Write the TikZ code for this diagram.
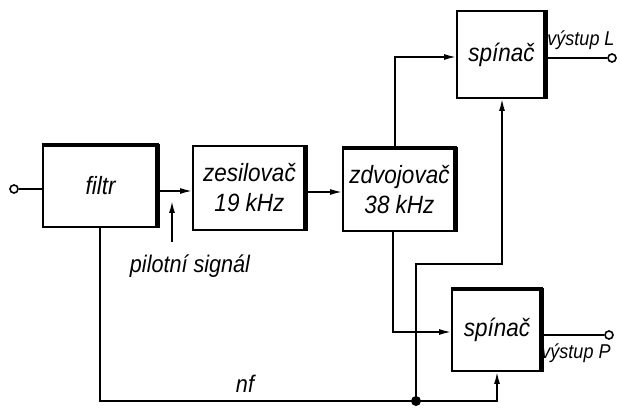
\documentclass[tikz,border=0pt]{standalone}
\usepackage{fontspec}
\setmainfont{Liberation Sans}
\newfontfamily\letfont[FakeStretch=0.9]{Liberation Sans}
\usetikzlibrary{arrows.meta,calc}
\begin{document}
\begin{tikzpicture}[x=0.5pt,y=-0.5pt,
  blk/.style={draw, line width=0.9pt, inner sep=0pt, align=center, font=\letfont\fontsize{12.5}{15}\selectfont\itshape},
  wire/.style={line width=0.8pt},
  arr/.style={wire, -{Latex[length=6pt,width=3pt]}},
  term/.style={circle, draw, line width=0.8pt, inner sep=0pt, minimum size=4pt, fill=white},
  dot/.style={circle, fill, inner sep=0pt, minimum size=5pt},
  lbl/.style={font=\letfont\fontsize{12}{14}\selectfont\itshape, inner sep=0pt},
  outlbl/.style={font=\letfont\fontsize{10}{12}\selectfont\itshape, inner sep=0pt},
  heavy/.style={line width=2.2pt}]
\useasboundingbox (0,0) rectangle (620,410);

% blocks
\node[blk, minimum width=57.5pt, minimum height=41pt] (filtr) at (100.5,186) {filtr};
\node[blk, minimum width=56.5pt, minimum height=42pt] (zesil) at (249.5,188) {zesilovač\\19 kHz};
\node[blk, minimum width=56.5pt, minimum height=41.5pt] (zdvoj) at (399.5,189.5) {zdvojovač\\38 kHz};
\node[blk, minimum width=44.5pt, minimum height=43.5pt] (spinL) at (501.5,54.5) {spínač};
\node[blk, minimum width=45pt, minimum height=41pt] (spinP) at (497,330) {spínač};

% heavy shadow edges
\foreach \n in {filtr,zesil,zdvoj,spinL,spinP}
  \draw[heavy] ([xshift=-0.7pt]\n.north east) -- ([xshift=-0.7pt]\n.south east);
\foreach \n in {filtr,zdvoj,spinP}
  \draw[heavy] ([yshift=-0.5pt]\n.north west) -- ([yshift=-0.5pt]\n.north east);

% input
\node[term] (tin) at (14,189) {};
\draw[wire] (tin) -- (filtr.west |- tin);

% filtr -> zesilovac
\coordinate (r1) at (0,191);
\draw[arr] (filtr.east |- r1) -- (zesil.west |- r1);

% pilot signal
\coordinate (pa) at (172,242);
\coordinate (pb) at (172,201);
\draw[arr] (pa) -- (pb);
\node[lbl] (pil) at (190,266) {pilotní signál};

% zesilovac -> zdvojovac
\coordinate (r2) at (0,192);
\draw[arr] (zesil.east |- r2) -- (zdvoj.west |- r2);

% zdvojovac -> spinac L
\coordinate (k1) at (395,57);
\draw[arr] (zdvoj.north -| k1) -- (k1) -- (spinL.west |- k1);

% zdvojovac -> spinac P
\coordinate (k2) at (393,332);
\draw[arr] (zdvoj.south -| k2) -- (k2) -- (spinP.west |- k2);

% nf path
\coordinate (k3) at (100,401);
\coordinate (k4) at (497,401);
\draw[arr] (filtr.south -| k3) -- (k3) -- (k4) -- (spinP.south -| k4);
\node[lbl] (nf) at (245,384) {nf};

\node[dot] (j) at (416,401) {};
\coordinate (k5) at (416,264);
\coordinate (k6) at (502,264);
\draw[arr] (j.center) -- (k5) -- (k6) -- (spinL.south -| k6);

% outputs
\node[term] (tL) at (612,58) {};
\draw[wire] (spinL.east |- tL) -- (tL);
\node[outlbl] (vL) at (581,40) {výstup L};

\node[term] (tP) at (609,335) {};
\draw[wire] (spinP.east |- tP) -- (tP);
\node[outlbl] (vP) at (576,353) {výstup P};
\end{tikzpicture}
\end{document}
